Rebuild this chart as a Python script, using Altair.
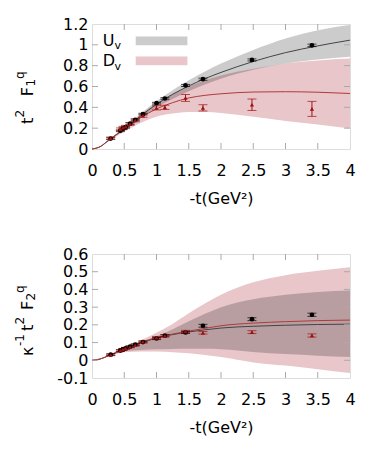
import altair as alt
import pandas as pd

# ---------------- data ----------------
# fit curves / bands, sampled on a grid of -t
grid_t = [0, 0.125, 0.25, 0.5, 0.75, 1, 1.25, 1.5, 1.75, 2, 2.5, 3, 3.5, 4]

f1_u_fit = [0, 0.022, 0.08, 0.195, 0.315, 0.43, 0.525, 0.605, 0.675, 0.735, 0.84, 0.925, 0.99, 1.045]
f1_u_hi = [0, 0.023, 0.085, 0.205, 0.335, 0.46, 0.565, 0.66, 0.745, 0.82, 0.95, 1.06, 1.14, 1.19]
f1_u_lo = [0, 0.021, 0.075, 0.185, 0.295, 0.40, 0.48, 0.555, 0.62, 0.675, 0.76, 0.82, 0.86, 0.885]
f1_d_fit = [0, 0.022, 0.08, 0.19, 0.30, 0.385, 0.445, 0.49, 0.515, 0.53, 0.547, 0.55, 0.545, 0.533]
f1_d_hi = [0, 0.023, 0.085, 0.21, 0.33, 0.44, 0.53, 0.60, 0.66, 0.705, 0.77, 0.82, 0.85, 0.868]
f1_d_lo = [0, 0.02, 0.07, 0.165, 0.25, 0.31, 0.34, 0.355, 0.355, 0.345, 0.31, 0.27, 0.235, 0.196]

f2_u_fit = [0, 0.007, 0.025, 0.062, 0.097, 0.125, 0.145, 0.16, 0.172, 0.182, 0.192, 0.198, 0.202, 0.204]
f2_u_hi = [0, 0.008, 0.027, 0.07, 0.102, 0.135, 0.175, 0.22, 0.262, 0.30, 0.345, 0.37, 0.386, 0.394]
f2_u_lo = [0, 0.006, 0.023, 0.05, 0.058, 0.062, 0.064, 0.065, 0.065, 0.063, 0.047, 0.035, 0.026, 0.018]
f2_d_fit = [0, 0.007, 0.025, 0.062, 0.10, 0.128, 0.148, 0.165, 0.18, 0.195, 0.21, 0.218, 0.224, 0.227]
f2_d_hi = [0, 0.008, 0.028, 0.075, 0.112, 0.155, 0.205, 0.265, 0.32, 0.37, 0.44, 0.48, 0.505, 0.525]
f2_d_lo = [0, 0.006, 0.022, 0.045, 0.05, 0.05, 0.046, 0.04, 0.03, 0.018, -0.012, -0.03, -0.05, -0.072]

# lattice points
pts_t = [0.29, 0.44, 0.48, 0.52, 0.59, 0.67, 0.79, 1.0, 1.13, 1.45, 1.72, 2.48, 3.41]
f1_u_val = [0.10, 0.175, 0.195, 0.21, 0.245, 0.28, 0.335, 0.44, 0.485, 0.61, 0.67, 0.855, 0.995]
f1_u_err = [0.008, 0.008, 0.008, 0.008, 0.008, 0.008, 0.008, 0.008, 0.008, 0.01, 0.01, 0.01, 0.012]
f1_d_val = [0.105, 0.19, 0.205, 0.215, 0.24, 0.275, 0.32, 0.395, 0.40, 0.49, 0.395, 0.425, 0.385]
f1_d_err = [0.01, 0.012, 0.012, 0.012, 0.012, 0.013, 0.015, 0.02, 0.02, 0.033, 0.03, 0.055, 0.072]
f2_u_val = [0.032, 0.055, 0.062, 0.068, 0.077, 0.088, 0.103, 0.123, 0.139, 0.157, 0.195, 0.232, 0.257]
f2_u_err = [0.005, 0.005, 0.005, 0.005, 0.005, 0.005, 0.005, 0.006, 0.006, 0.006, 0.008, 0.008, 0.009]
f2_d_val = [0.03, 0.055, 0.062, 0.068, 0.075, 0.085, 0.105, 0.128, 0.138, 0.163, 0.155, 0.159, 0.14]
f2_d_err = [0.004, 0.004, 0.004, 0.004, 0.004, 0.005, 0.005, 0.006, 0.006, 0.006, 0.007, 0.008, 0.009]

x_ticks = [0, 0.5, 1, 1.5, 2, 2.5, 3, 3.5, 4]
y1_ticks = [0, 0.2, 0.4, 0.6, 0.8, 1, 1.2]
y2_ticks = [-0.1, 0, 0.1, 0.2, 0.3, 0.4, 0.5, 0.6]

x_title = "-t(GeV²)"
legend_names = ["U", "D"]
legend_sub = "v"
title1 = [("t", 16, "main"), ("2", 12, "sup"), ("F", 16, "main"), ("1", 12, "sub"), ("q", 12, "sup")]
title2 = [("κ", 16, "main"), ("-1", 12, "sup"), ("t", 16, "main"), ("2", 12, "sup"),
          ("F", 16, "main"), ("2", 12, "sub"), ("q", 12, "sup")]

# ---------------- styling ----------------
FONT = "DejaVu Sans"
W = 258
PINK = "#e8c6ca"
RED = "#a01010"
REDLINE = "#b03a3a"
GRAYLINE = "#444444"
TICK = "#aaaaaa"


def panel(H, ydom, yticks, u_fit, u_hi, u_lo, d_fit, d_hi, d_lo,
          u_val, u_err, d_val, d_err, title_pieces, title_starts, legend=False):
    curves = pd.DataFrame({"t": grid_t, "u": u_fit, "uh": u_hi, "ul": u_lo,
                           "d": d_fit, "dh": d_hi, "dl": d_lo})
    pts = pd.DataFrame({"t": pts_t, "u": u_val, "ue": u_err, "d": d_val, "de": d_err})
    pts["uh"] = pts.u + pts.ue
    pts["ul"] = pts.u - pts.ue
    pts["dh"] = pts.d + pts.de
    pts["dl"] = pts.d - pts.de

    xs = alt.Scale(domain=[0, 4], nice=False, zero=False)
    ys = alt.Scale(domain=ydom, nice=False, zero=False)
    xax = alt.Axis(values=x_ticks, labelExpr="'' + datum.value", grid=False, ticks=False,
                   domain=False, tickSize=0, labelPadding=13, title=x_title,
                   labelOverlap=False, labelFlush=False, labelBound=False,
                   titlePadding=12, titleFont=FONT, titleFontSize=16, titleFontWeight="normal",
                   labelFont=FONT, labelFontSize=16)
    yax = alt.Axis(values=yticks, labelExpr="'' + datum.value", grid=False, ticks=False,
                   domain=False, tickSize=0, labelPadding=4, title="",
                   labelOverlap=False, labelFlush=False, labelBound=False,
                   labelFont=FONT, labelFontSize=16)

    def X(f):
        return alt.X(f, type="quantitative", scale=xs, axis=xax, title=x_title)

    def Y(f):
        return alt.Y(f, type="quantitative", scale=ys, axis=yax, title="")

    base = alt.Chart(curves)
    d_band = base.mark_area(color=PINK, opacity=1, interpolate="monotone").encode(
        x=X("t"), y=Y("dl"), y2="dh:Q")
    u_band = base.mark_area(color="#000000", opacity=0.2, interpolate="monotone").encode(
        x=X("t"), y=Y("ul"), y2="uh:Q")
    u_line = base.mark_line(color=GRAYLINE, strokeWidth=1, interpolate="monotone").encode(
        x=X("t"), y=Y("u"))
    d_line = base.mark_line(color=REDLINE, strokeWidth=1, interpolate="monotone").encode(
        x=X("t"), y=Y("d"))

    pb = alt.Chart(pts)
    u_err_bar = pb.mark_rule(color="#000000", strokeWidth=1).encode(
        x=X("t"), y=Y("ul"), y2="uh:Q")
    u_cap_hi = pb.mark_tick(color="#000000", orient="horizontal", size=9, thickness=1).encode(
        x=X("t"), y=Y("uh"))
    u_cap_lo = pb.mark_tick(color="#000000", orient="horizontal", size=9, thickness=1).encode(
        x=X("t"), y=Y("ul"))
    d_err_bar = pb.mark_rule(color=RED, strokeWidth=1).encode(
        x=X("t"), y=Y("dl"), y2="dh:Q")
    d_cap_hi = pb.mark_tick(color=RED, orient="horizontal", size=9, thickness=1).encode(
        x=X("t"), y=Y("dh"))
    d_cap_lo = pb.mark_tick(color=RED, orient="horizontal", size=9, thickness=1).encode(
        x=X("t"), y=Y("dl"))
    u_pts = pb.mark_point(shape="circle", filled=True, color="#000000", size=22, opacity=1).encode(
        x=X("t"), y=Y("u"))
    d_pts = pb.mark_point(shape="triangle-up", filled=True, color=RED, size=18, opacity=1).encode(
        x=X("t"), y=Y("d"))

    # inner ticks (gnuplot style), on all four sides
    xt = alt.Chart(pd.DataFrame({"t": x_ticks[1:-1]}))
    yt = alt.Chart(pd.DataFrame({"v": yticks[1:-1]}))
    tk = dict(color=TICK, strokeWidth=1)
    ticks = [
        xt.mark_rule(**tk).encode(x=X("t"), y=alt.value(H), y2=alt.value(H - 6)),
        xt.mark_rule(**tk).encode(x=X("t"), y=alt.value(0), y2=alt.value(6)),
        yt.mark_rule(**tk).encode(y=Y("v"), x=alt.value(0), x2=alt.value(6)),
        yt.mark_rule(**tk).encode(y=Y("v"), x=alt.value(W), x2=alt.value(W - 6)),
    ]

    # rotated y title built from pieces (super/subscripts)
    one = alt.Chart(pd.DataFrame({"a": [0]}))
    xpos = {"main": -59.5, "sup": -68, "sub": -57}
    tparts = []
    for (txt, fs, kind), ystart in zip(title_pieces, title_starts):
        tparts.append(one.mark_text(angle=270, align="left", baseline="alphabetic",
                                    font=FONT, fontSize=fs, color="#000000").encode(
            x=alt.value(xpos[kind]), y=alt.value(ystart), text=alt.value(txt)))

    layers = [d_band, u_band, u_line, d_line, *ticks,
              u_err_bar, u_cap_hi, u_cap_lo, d_err_bar, d_cap_hi, d_cap_lo, u_pts, d_pts, *tparts]

    if legend:
        leg = []
        sw = [("#cccccc", 12.6, 21.3, 22, 23.6), (PINK, 32.6, 41.3, 42, 44.6)]
        for name, (col, y1, y2, yb, ysb) in zip(legend_names, sw):
            leg.append(one.mark_rect(color=col).encode(
                x=alt.value(43.7), x2=alt.value(95.4), y=alt.value(y1), y2=alt.value(y2)))
            leg.append(one.mark_text(align="left", baseline="alphabetic", font=FONT,
                                     fontSize=16, color="#000000").encode(
                x=alt.value(10.7), y=alt.value(yb), text=alt.value(name)))
            leg.append(one.mark_text(align="left", baseline="alphabetic", font=FONT,
                                     fontSize=11, color="#000000").encode(
                x=alt.value(22.5), y=alt.value(ysb + 1.5), text=alt.value(legend_sub)))
        layers += leg

    return alt.layer(*layers).properties(width=W, height=H)


top = panel(125, [0, 1.2], y1_ticks, f1_u_fit, f1_u_hi, f1_u_lo, f1_d_fit, f1_d_hi, f1_d_lo,
            f1_u_val, f1_u_err, f1_d_val, f1_d_err, title1, [100, 93.5, 72.3, 62.5, 55],
            legend=True)
bottom = panel(124, [-0.1, 0.6], y2_ticks, f2_u_fit, f2_u_hi, f2_u_lo, f2_d_fit, f2_d_hi, f2_d_lo,
               f2_u_val, f2_u_err, f2_d_val, f2_d_err, title2, [102, 92, 77, 70.5, 56, 46.5, 39])

chart = alt.vconcat(top, bottom, spacing=38).properties(
    padding={"left": 5, "top": 7, "right": 5, "bottom": 5}
).configure_view(stroke="#808080", strokeWidth=1).configure_axis(
    labelOverlap=False
).configure(background="white")

chart.save("out.html", embed_options={"renderer": "svg", "actions": False})
